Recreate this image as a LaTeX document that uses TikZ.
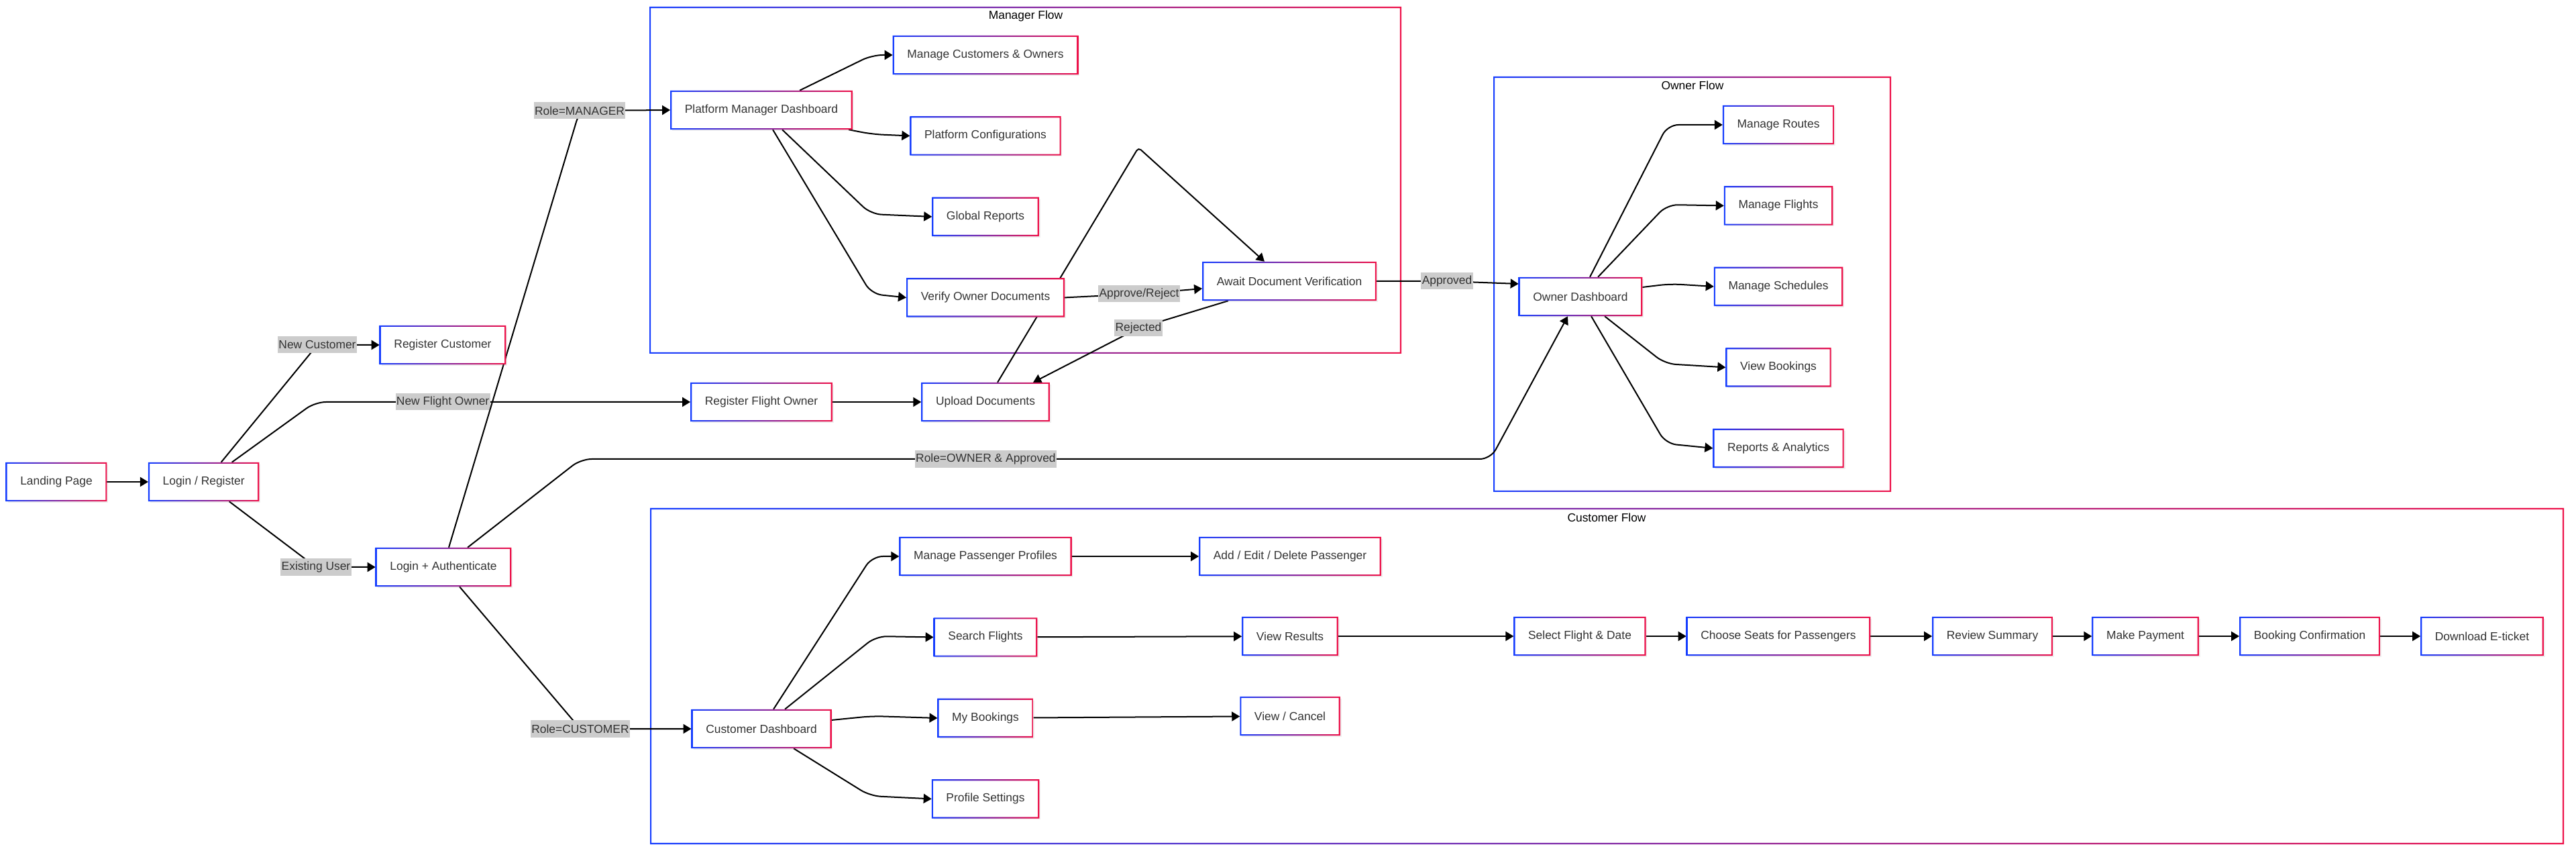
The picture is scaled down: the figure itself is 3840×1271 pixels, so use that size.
\documentclass[tikz,border=0pt]{standalone}
\usepackage{fontspec}
\setmainfont{Liberation Sans}
\usetikzlibrary{positioning,arrows.meta,shadows}
\definecolor{GradBlue}{RGB}{22,62,255}
\definecolor{GradRed}{RGB}{238,18,74}
\definecolor{NodeText}{RGB}{51,51,51}
\definecolor{LabelGray}{RGB}{204,204,204}
\pgfdeclarelayer{frames}
\pgfdeclarelayer{edges}
\pgfsetlayers{frames,edges,main}
\tikzset{
  flow/.style={-{Triangle[length=0.12cm,width=0.14cm]},line width=0.02cm,draw=black,rounded corners=0.16cm},
  box/.style={fill=white,draw=none,minimum height=0.57cm,inner xsep=0.21cm,inner ysep=0pt,
    text=NodeText,font=\fontsize{4.95pt}{6pt}\selectfont,
    drop shadow={shadow xshift=0.025cm,shadow yshift=-0.025cm,opacity=0.12}},
  elabel/.style={fill=LabelGray,text=NodeText,inner xsep=0.4pt,inner ysep=0.03cm,
    minimum height=0.25cm,rounded corners=0pt,font=\fontsize{4.95pt}{6pt}\selectfont},
  title/.style={text=black,font=\fontsize{4.95pt}{6pt}\selectfont},
  ring/.style={left color=GradBlue,right color=GradRed,even odd rule}
}
\newcommand{\gradborder}[2]{%
  \shade[ring] (#1) rectangle (#2)
    ([shift={(0.62pt,0.62pt)}]#1) rectangle ([shift={(-0.62pt,-0.62pt)}]#2);}

\begin{document}
\begin{tikzpicture}[x=0.01cm,y=-0.01cm]
  \useasboundingbox (0,0) rectangle (3840,1271);
  \begin{pgfonlayer}{frames}
    \fill[white] (0,0) rectangle (3840,1271);
    % subgraph frames
    \gradborder{968,527}{2089,10}
    \gradborder{2226,733}{2819,114}
    \gradborder{969,1258}{3822,757}
  \end{pgfonlayer}
  \node[title] (tManager) at (1529,24) {Manager Flow};
  \node[title] (tOwner) at (2523,127) {Owner Flow};
  \node[title] (tCustomer) at (2395,771) {Customer Flow};

  % entry
  \node[box] (landing) at (84,718) {Landing Page};
  \node[box,right=0.615cm of landing] (loginreg) {Login / Register};
  \node[box] (regcust) at (660,514) {Register Customer};
  \node[box] (loginauth) at (661,845) {Login + Authenticate};
  \node[box] (regowner) at (1135,599) {Register Flight Owner};
  \node[box] (upload) at (1469,599) {Upload Documents};

  % manager
  \node[box] (pmdash) at (1135,164) {Platform Manager Dashboard};
  \node[box] (mngco) at (1469,82) {Manage Customers \& Owners};
  \node[box,below=0.62cm of mngco] (pconfig) {Platform Configurations};
  \node[box,below=0.62cm of pconfig] (greports) {Global Reports};
  \node[box,below=0.62cm of greports] (verifydocs) {Verify Owner Documents};
  \node[box] (awaitver) at (1922,419) {Await Document Verification};

  % owner
  \node[box] (ownerdash) at (2356,442) {Owner Dashboard};
  \node[box] (mroutes) at (2651,186) {Manage Routes};
  \node[box,below=0.62cm of mroutes] (mflights) {Manage Flights};
  \node[box,below=0.62cm of mflights] (mschedules) {Manage Schedules};
  \node[box,below=0.62cm of mschedules] (vbookings) {View Bookings};
  \node[box,below=0.62cm of vbookings] (reports) {Reports \& Analytics};

  % customer
  \node[box] (custdash) at (1135,1086) {Customer Dashboard};
  \node[box] (passprof) at (1469,829) {Manage Passenger Profiles};
  \node[box,below=0.62cm of passprof] (searchfl) {Search Flights};
  \node[box,below=0.62cm of searchfl] (mybook) {My Bookings};
  \node[box,below=0.62cm of mybook] (profset) {Profile Settings};
  \node[box] (addpass) at (1923,829) {Add / Edit / Delete Passenger};
  \node[box] (viewres) at (1923,948) {View Results};
  \node[box] (viewcancel) at (1923,1067) {View / Cancel};
  \node[box] (selflight) at (2355,948) {Select Flight \& Date};
  \node[box] (chooseseat) at (2651,948) {Choose Seats for Passengers};
  \node[box] (review) at (2970,948) {Review Summary};
  \node[box] (payment) at (3198,948) {Make Payment};
  \node[box] (bookconf) at (3443,948) {Booking Confirmation};
  \node[box] (eticket) at (3700,948) {Download E-ticket};

  \foreach \n in {landing,loginreg,regcust,loginauth,regowner,upload,pmdash,mngco,pconfig,
      greports,verifydocs,awaitver,ownerdash,mroutes,mflights,mschedules,vbookings,reports,
      custdash,passprof,searchfl,mybook,profset,addpass,viewres,viewcancel,selflight,
      chooseseat,review,payment,bookconf,eticket}
    {\gradborder{\n.south west}{\n.north east}}

  \begin{pgfonlayer}{edges}
    \foreach \a/\b in {landing/loginreg,passprof/addpass,searchfl/viewres,mybook/viewcancel,
        viewres/selflight,selflight/chooseseat,chooseseat/review,review/payment,
        payment/bookconf,bookconf/eticket,regowner/upload}
      \draw[flow] (\a) -- (\b);
    \draw[flow] ([xshift=0.26cm]loginreg.north) -- (473,514) node[elabel] (lNewCust) {New Customer} -- (regcust.west);
    \draw[flow] ([xshift=0.42cm]loginreg.north) -- (470,599) -- node[elabel,pos=0.34] (lNewOwner) {New Flight Owner} (regowner.west);
    \draw[flow] ([xshift=0.38cm]loginreg.south) -- (471,845) node[elabel] (lExisting) {Existing User} -- (loginauth.west);
    \draw[flow] ([xshift=0.08cm]loginauth.north) -- (864,165) node[elabel] (lManager) {Role=MANAGER} -- (pmdash.west);
    \draw[flow] ([xshift=0.36cm]loginauth.north) -- (866,684) -- node[elabel,pos=0.445] (lOwner) {Role=OWNER \& Approved} (2222,684) -- ([xshift=-0.19cm]ownerdash.south);
    \draw[flow] ([xshift=0.24cm]loginauth.south) -- (865,1086) node[elabel] (lCustomer) {Role=CUSTOMER} -- (custdash.west);
    % manager flow
    \draw[flow] ([xshift=0.57cm]pmdash.north) -- (1300,82) -- (mngco.west);
    \draw[flow] ([xshift=1.30cm]pmdash.south) -- (1300,200) -- (pconfig.west);
    \draw[flow] ([xshift=0.31cm]pmdash.south) -- (1298,319) -- (greports.west);
    \draw[flow] ([xshift=0.17cm]pmdash.south) -- (1299,438) -- (verifydocs.west);
    \draw[flow] (verifydocs.east) -- (1698,438) node[elabel] (lApprove) {Approve/Reject} -- ([yshift=-0.11cm]awaitver.west);
    \draw[flow] ([xshift=-0.91cm]awaitver.south) -- (1697,489) node[elabel] (lRejected) {Rejected} -- ([xshift=0.71cm]upload.north);
    \draw[flow,rounded corners=0.05cm] ([xshift=0.18cm]upload.north) -- (1697,220) -- ([xshift=-0.37cm]awaitver.north);
    \draw[flow] (awaitver.east) -- (2157,419) node[elabel] (lApproved) {Approved} -- ([yshift=0.19cm]ownerdash.west);
    % owner flow
    \draw[flow] ([xshift=0.14cm]ownerdash.north) -- (2486,186) -- (mroutes.west);
    \draw[flow] ([xshift=0.26cm]ownerdash.north) -- (2485,305) -- (mflights.west);
    \draw[flow] ([yshift=0.14cm]ownerdash.east) -- (2490,423) -- (mschedules.west);
    \draw[flow] ([xshift=0.36cm]ownerdash.south) -- (2482,542) -- (vbookings.west);
    \draw[flow] ([xshift=0.16cm]ownerdash.south) -- (2483,661) -- (reports.west);
    % customer flow
    \draw[flow] ([xshift=0.18cm]custdash.north) -- (1300,829) -- (passprof.west);
    \draw[flow] ([xshift=0.35cm]custdash.north) -- (1306,948) -- (searchfl.west);
    \draw[flow] ([yshift=0.13cm]custdash.east) -- (1300,1067) -- (mybook.west);
    \draw[flow] ([xshift=0.48cm]custdash.south) -- (1297,1186) -- (profset.west);
  \end{pgfonlayer}
\end{tikzpicture}
\end{document}
